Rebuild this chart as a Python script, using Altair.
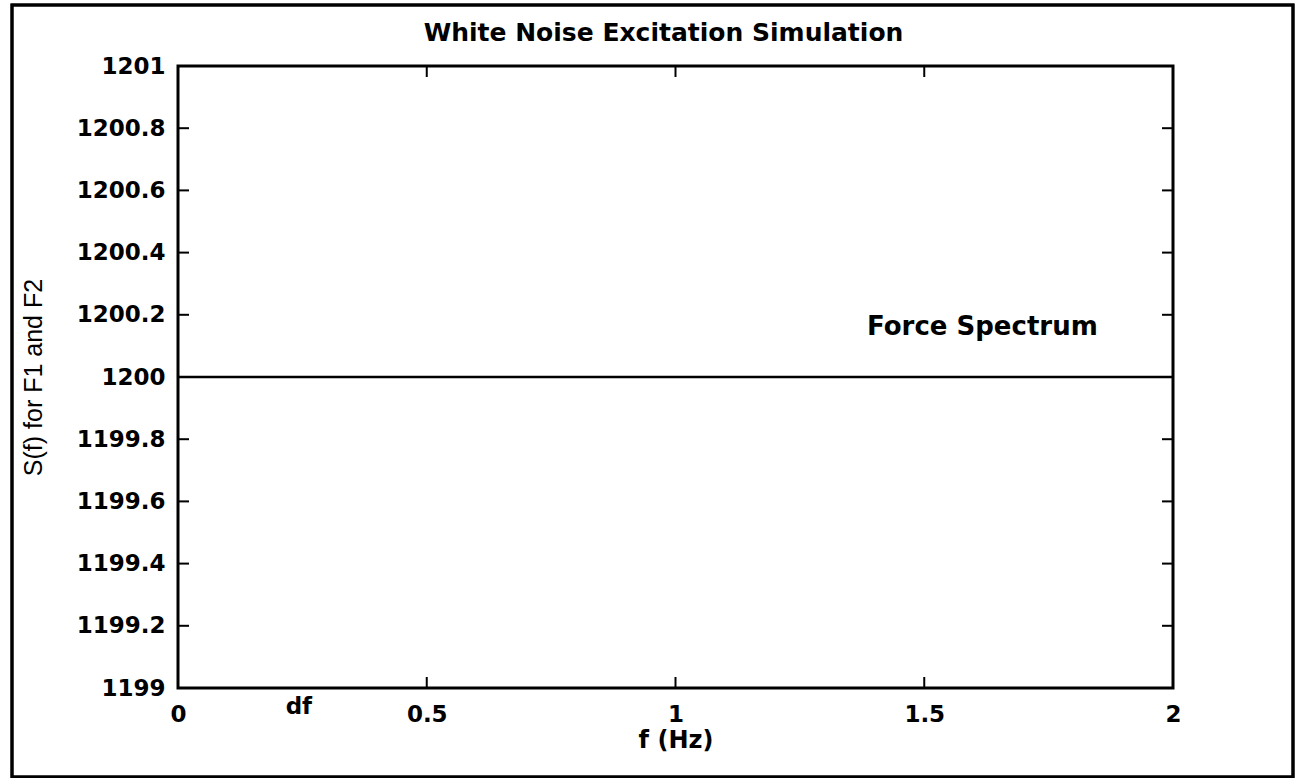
import altair as alt
import pandas as pd

# Flat (white-noise) force spectrum over 0..2 Hz
freq_hz = [0.0, 2.0]
force_spectrum = [1200.0, 1200.0]

x_tick_values = [0, 0.5, 1, 1.5, 2]
y_tick_values = [1199.0, 1199.2, 1199.4, 1199.6, 1199.8, 1200.0,
                 1200.2, 1200.4, 1200.6, 1200.8, 1201.0]

chart_title = "White Noise Excitation Simulation"

W, H = 995, 622
TICK = 11
FONT = "DejaVu Sans"

line_df = pd.DataFrame({"f": freq_hz, "S": force_spectrum})
xt_df = pd.DataFrame({"v": x_tick_values})
yt_df = pd.DataFrame({"v": y_tick_values})

x_scale = alt.Scale(domain=[0, 2], nice=False, zero=False)
y_scale = alt.Scale(domain=[1199, 1201], nice=False, zero=False)

line = alt.Chart(line_df).mark_line(color="black", strokeWidth=2.5).encode(
    x=alt.X("f:Q", scale=x_scale,
            axis=alt.Axis(title="f (Hz)", values=x_tick_values, format="~g",
                          ticks=False, domain=False, grid=False, labelFlush=False,
                          labelFont=FONT, labelFontSize=23, labelFontWeight="bold",
                          labelColor="black", labelPadding=15,
                          titleFont=FONT, titleFontSize=24, titleFontWeight="bold",
                          titleColor="black", titleBaseline="middle", titleY=52)),
    y=alt.Y("S:Q", scale=y_scale,
            axis=alt.Axis(title="S(f) for F1 and F2", values=y_tick_values, format=".5~r",
                          ticks=False, domain=False, grid=False, labelFlush=False,
                          labelFont=FONT, labelFontSize=23, labelFontWeight="bold",
                          labelColor="black", labelPadding=13,
                          titleFont="Liberation Sans", titleFontSize=25,
                          titleFontWeight="normal", titleColor="black",
                          titleBaseline="middle", titleX=-145)),
)

# inward ticks on all four sides
x_ticks_bottom = alt.Chart(xt_df).mark_rule(color="black", strokeWidth=2).encode(
    x=alt.X("v:Q", scale=x_scale), y=alt.value(H), y2=alt.value(H - TICK))
x_ticks_top = alt.Chart(xt_df).mark_rule(color="black", strokeWidth=2).encode(
    x=alt.X("v:Q", scale=x_scale), y=alt.value(0), y2=alt.value(TICK))
y_ticks_left = alt.Chart(yt_df).mark_rule(color="black", strokeWidth=2).encode(
    y=alt.Y("v:Q", scale=y_scale), x=alt.value(0), x2=alt.value(TICK))
y_ticks_right = alt.Chart(yt_df).mark_rule(color="black", strokeWidth=2).encode(
    y=alt.Y("v:Q", scale=y_scale), x=alt.value(W - TICK), x2=alt.value(W))

# annotations
ann_df = pd.DataFrame({"f": [1.385], "S": [1200.16], "txt": ["Force Spectrum"]})
label = alt.Chart(ann_df).mark_text(
    align="left", baseline="middle", font=FONT, fontSize=26, fontWeight="bold",
    color="black"
).encode(x=alt.X("f:Q", scale=x_scale), y=alt.Y("S:Q", scale=y_scale), text="txt:N")

df_df = pd.DataFrame({"f": [0.243], "S": [1198.94], "txt": ["df"]})
df_label = alt.Chart(df_df).mark_text(
    align="center", baseline="middle", font=FONT, fontSize=23, fontWeight="bold",
    color="black"
).encode(x=alt.X("f:Q", scale=x_scale), y=alt.Y("S:Q", scale=y_scale), text="txt:N")

title_df = pd.DataFrame({"txt": [chart_title]})
title = alt.Chart(title_df).mark_text(
    align="center", baseline="middle", font=FONT, fontSize=25, fontWeight="bold",
    color="black"
).encode(x=alt.value(W / 2 - 12), y=alt.value(-33), text="txt:N")

# figure border around everything
border = alt.Chart(line_df).mark_rect(
    filled=False, stroke="black", strokeWidth=3
).encode(x=alt.value(-166), x2=alt.value(1115), y=alt.value(-61), y2=alt.value(711))

chart = alt.layer(
    border, line, x_ticks_bottom, x_ticks_top, y_ticks_left, y_ticks_right,
    label, df_label, title
).properties(
    width=W, height=H,
    background="white",
    autosize=alt.AutoSizeParams(type="none"),
    padding={"left": 178, "top": 66, "right": 134, "bottom": 90},
).configure_view(
    stroke="black", strokeWidth=3
)

chart.save("out.html", embed_options={"renderer": "svg", "actions": False})
